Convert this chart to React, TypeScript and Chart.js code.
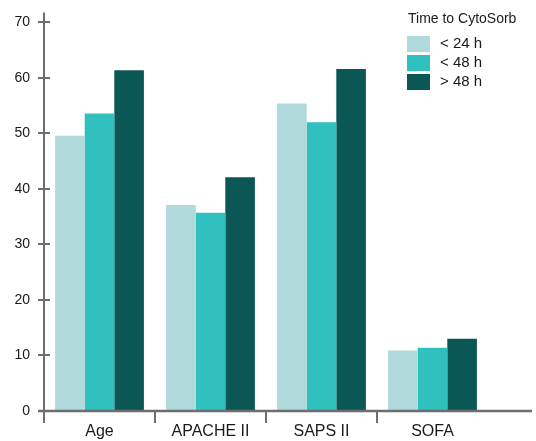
import { useEffect, useRef } from "react";
import { Chart, registerables } from "chart.js";

Chart.register(...registerables);

const categories = ["Age", "APACHE II", "SAPS II", "SOFA"];
const seriesLabels = ["< 24 h", "< 48 h", "> 48 h"];
const under24 = [49.6, 37.1, 55.4, 10.9];
const under48 = [53.6, 35.7, 52.0, 11.4];
const over48 = [61.4, 42.1, 61.6, 13.0];
const yMin = 0;
const yMax = 70;
const yStep = 10;
const legendTitle = "Time to CytoSorb";
const seriesColors = ["#b0d9db", "#30c1be", "#0b5755"];

const FONT = "'Liberation Sans', Arial, sans-serif";
const AXIS_COLOR = "#6e6e6e";
const TEXT_COLOR = "#1a1a1a";

const axesPlugin = {
  id: "customAxes",
  afterDatasetsDraw(chart: any) {
    const ctx = chart.ctx;
    const x = chart.scales.x;
    const y = chart.scales.y;
    const area = chart.chartArea;
    ctx.save();
    ctx.strokeStyle = AXIS_COLOR;
    ctx.lineWidth = 2;
    // y axis line
    ctx.beginPath();
    ctx.moveTo(area.left, area.top - 10);
    ctx.lineTo(area.left, area.bottom + 12);
    ctx.stroke();
    // y tick marks crossing the axis
    y.ticks.forEach((t: any) => {
      const py = Math.round(y.getPixelForValue(t.value));
      ctx.beginPath();
      ctx.moveTo(area.left - 6, py);
      ctx.lineTo(area.left + 6, py);
      ctx.stroke();
    });
    // x axis line
    ctx.lineWidth = 2.5;
    ctx.beginPath();
    ctx.moveTo(area.left - 6, area.bottom);
    ctx.lineTo(chart.width - 4, area.bottom);
    ctx.stroke();
    // category separators
    ctx.lineWidth = 2;
    const w = (x.right - x.left) / categories.length;
    for (let i = 0; i < categories.length; i++) {
      const px = Math.round(x.left + i * w);
      ctx.beginPath();
      ctx.moveTo(px, area.bottom);
      ctx.lineTo(px, area.bottom + 12);
      ctx.stroke();
    }
    ctx.restore();
  },
};

const legendPlugin = {
  id: "customLegend",
  afterDraw(chart: any) {
    const ctx = chart.ctx;
    ctx.save();
    ctx.fillStyle = TEXT_COLOR;
    ctx.textBaseline = "middle";
    ctx.textAlign = "left";
    ctx.font = `14px ${FONT}`;
    ctx.fillText(legendTitle, 408, 19);
    chart.data.datasets.forEach((ds: any, i: number) => {
      const top = 36 + i * 19;
      ctx.fillStyle = ds.backgroundColor;
      ctx.fillRect(407, top, 23, 16);
      ctx.fillStyle = TEXT_COLOR;
      ctx.font = `15px ${FONT}`;
      ctx.fillText(ds.label, 440, top + 8);
    });
    ctx.restore();
  },
};

export default function App() {
  const ref = useRef<HTMLCanvasElement | null>(null);

  useEffect(() => {
    document.body.style.margin = "0";
    const canvas = ref.current;
    if (!canvas) return;
    const values = [under24, under48, over48];
    const chart = new Chart(canvas, {
      type: "bar",
      data: {
        labels: categories,
        datasets: seriesLabels.map((label, i) => ({
          label,
          data: values[i],
          backgroundColor: seriesColors[i],
          borderWidth: 0,
          categoryPercentage: 0.8,
          barPercentage: 1.0,
        })),
      },
      options: {
        animation: false,
        responsive: false,
        maintainAspectRatio: false,
        layout: { padding: { top: 19, right: 48, left: 0, bottom: 0 } },
        plugins: {
          legend: { display: false },
          tooltip: { enabled: false },
          title: { display: false },
        },
        scales: {
          x: {
            offset: true,
            grid: { display: false, drawTicks: false },
            border: { display: false },
            ticks: {
              color: TEXT_COLOR,
              font: { family: FONT, size: 16 },
              padding: 11,
              maxRotation: 0,
              autoSkip: false,
            },
            afterFit(scale: any) {
              scale.height = 30;
            },
          },
          y: {
            min: yMin,
            max: yMax,
            grid: { display: false, drawTicks: false },
            border: { display: false },
            ticks: {
              stepSize: yStep,
              color: TEXT_COLOR,
              font: { family: FONT, size: 14 },
              padding: 14,
            },
            afterFit(scale: any) {
              scale.width = 44;
            },
          },
        },
      },
      plugins: [axesPlugin, legendPlugin],
    });
    return () => chart.destroy();
  }, []);

  return (
    <div style={{ width: 536, height: 441, background: "#fff" }}>
      <canvas ref={ref} width={536} height={441} style={{ display: "block" }} />
    </div>
  );
}
